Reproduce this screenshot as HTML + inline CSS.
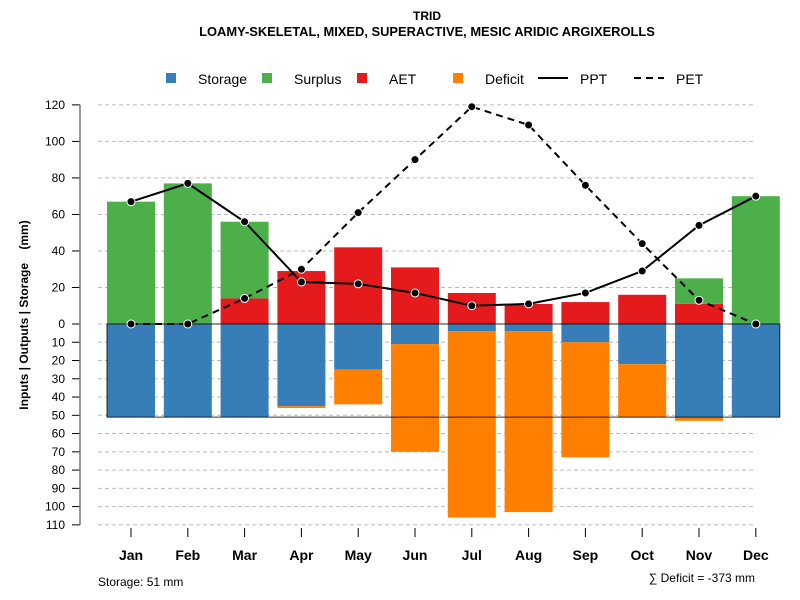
<!DOCTYPE html>
<html><head><meta charset="utf-8"><style>
body{margin:0;background:#fff}
svg{display:block;font-family:"Liberation Sans",sans-serif}
</style></head><body>
<svg id="c" width="800" height="600">
<text x="427" y="20" text-anchor="middle" font-size="12" font-weight="bold">TRID</text>
<text x="427" y="36" text-anchor="middle" font-size="12.9" font-weight="bold">LOAMY-SKELETAL, MIXED, SUPERACTIVE, MESIC ARIDIC ARGIXEROLLS</text>
<g font-size="14">
<rect x="166" y="73" width="10" height="10" fill="#377EB8"/><text x="198" y="84">Storage</text>
<rect x="262" y="73" width="10" height="10" fill="#4DAF4A"/><text x="294" y="84">Surplus</text>
<rect x="357" y="73" width="10" height="10" fill="#E41A1C"/><text x="389" y="84">AET</text>
<rect x="453" y="73" width="10" height="10" fill="#FF7F00"/><text x="485" y="84">Deficit</text>
<line x1="538" y1="78" x2="568" y2="78" stroke="#000" stroke-width="2"/><text x="580" y="84">PPT</text>
<line x1="634" y1="78" x2="664" y2="78" stroke="#000" stroke-width="2" stroke-dasharray="7,5"/><text x="676" y="84">PET</text>
</g>
<text transform="translate(28,315) rotate(-90)" text-anchor="middle" font-size="12" font-weight="bold" xml:space="preserve" style="white-space:pre">Inputs | Outputs | Storage    (mm)</text>
<text x="98" y="586" font-size="12">Storage: 51 mm</text>
<text x="755" y="582" text-anchor="end" font-size="12">∑ Deficit = -373 mm</text>
<g id="g"></g>
</svg>
<script>
const months=["Jan","Feb","Mar","Apr","May","Jun","Jul","Aug","Sep","Oct","Nov","Dec"];
const ppt=[67,77,56,23,22,17,10,11,17,29,54,70];
const pet=[0,0,14,30,61,90,119,109,76,44,13,0];
const aet=[0,0,14,29,42,31,17,11,12,16,11,0];
const surplus=[67,77,42,0,0,0,0,0,0,0,14,70];
const storage=[51,51,51,45,25,11,4,4,10,22,51,51];
const deficit=[0,0,0,1,19,59,102,99,63,29,2,0];
const upTicks=[0,20,40,60,80,100,120];
const downTicks=[10,20,30,40,50,60,70,80,90,100,110];
const storageCap=51;
const NS="http://www.w3.org/2000/svg";
const g=document.getElementById("g");
const y0=324,k=1.826;
const yUp=v=>y0-v*k, yDn=v=>y0+v*k;
const xm=i=>131+i*56.8;
function mk(t,a){const e=document.createElementNS(NS,t);for(const n in a)e.setAttribute(n,a[n]);g.appendChild(e);return e;}
upTicks.forEach(v=>{const y=yUp(v);
 let l=mk("line",{x1:98,x2:756,y1:y,y2:y,stroke:"#bbb","stroke-dasharray":"4,3"});
 
 let t=mk("line",{x1:72,x2:80,y1:y,y2:y,stroke:"#000"});
 
 let tx=mk("text",{x:65,y:y+4,"text-anchor":"end","font-size":12});tx.textContent=v;
 });
downTicks.forEach(v=>{const y=yDn(v);
 let l=mk("line",{x1:98,x2:756,y1:y,y2:y,stroke:"#bbb","stroke-dasharray":"4,3"});
 
 let t=mk("line",{x1:72,x2:80,y1:y,y2:y,stroke:"#000"});
 
 let tx=mk("text",{x:65,y:y+4,"text-anchor":"end","font-size":12});tx.textContent=v;
 });
let ax=mk("line",{x1:80,x2:80,y1:yUp(120),y2:yDn(110),stroke:"#777","stroke-width":1.5});

const bw=48;
months.forEach((m,i)=>{const x=xm(i)-bw/2;
 if(aet[i]>0){let r=mk("rect",{x:x,y:yUp(aet[i]),width:bw,height:aet[i]*k,fill:"#E41A1C"});}
 if(surplus[i]>0){let r=mk("rect",{x:x,y:yUp(aet[i]+surplus[i]),width:bw,height:surplus[i]*k,fill:"#4DAF4A"});}
 if(storage[i]>0){let r=mk("rect",{x:x,y:y0,width:bw,height:storage[i]*k,fill:"#377EB8"});}
 if(deficit[i]>0){let r=mk("rect",{x:x,y:yDn(storage[i]),width:bw,height:deficit[i]*k,fill:"#FF7F00"});}
 let t=mk("line",{x1:xm(i),x2:xm(i),y1:528,y2:537,stroke:"#000"});
 let tx=mk("text",{x:xm(i),y:560,"text-anchor":"middle","font-size":14,"font-weight":"bold"});tx.textContent=m;
 
});
let sb=mk("rect",{x:xm(0)-bw/2,y:y0,width:xm(11)+bw/2-(xm(0)-bw/2),height:storageCap*k,fill:"none",stroke:"#000","stroke-width":1,"stroke-opacity":0.8});

function line(arr,dash,name){let p=mk("polyline",{points:arr.map((v,i)=>xm(i)+","+yUp(v)).join(" "),fill:"none",stroke:"#000","stroke-width":2,"stroke-dasharray":dash});
 
 arr.forEach((v,i)=>{let c=mk("circle",{cx:xm(i),cy:yUp(v),r:4,fill:"#000",stroke:"#fff","stroke-width":1});});}
line(pet,"7,5","pet");
line(ppt,"none","ppt");
</script>
</body></html>
